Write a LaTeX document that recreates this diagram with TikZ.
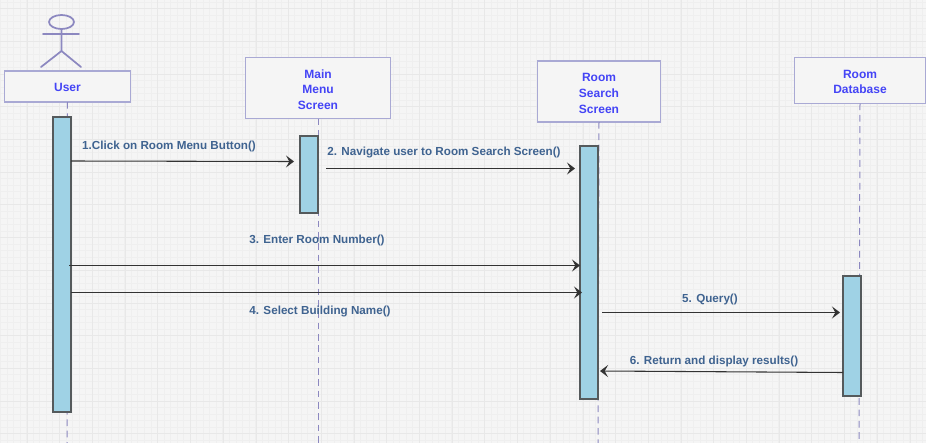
\documentclass[tikz,border=0pt]{standalone}
\usepackage{fontspec}
\setmainfont{Liberation Sans}
\usetikzlibrary{arrows.meta}
\definecolor{bgc}{HTML}{F5F5F5}
\definecolor{gridminor}{HTML}{EFEFEF}
\definecolor{gridmajor}{HTML}{E8E8E8}
\definecolor{boxline}{HTML}{A9A9D4}
\definecolor{lifec}{HTML}{8C88C0}
\definecolor{headtxt}{HTML}{4444F5}
\definecolor{msgtxt}{HTML}{3F6390}
\definecolor{actfill}{HTML}{9FD2E5}
\definecolor{actline}{HTML}{555A5C}
\definecolor{arrowc}{HTML}{333333}
\tikzset{
  x=0.75pt,y=-0.75pt,
  headbox/.style={draw=boxline,line width=1.2pt,fill=bgc,inner sep=0pt,outer sep=0pt,minimum width=#1},
  headtext/.style={text=headtxt,font=\bfseries\fontsize{9}{11.8}\selectfont,align=center,inner sep=0pt},
  lifeline/.style={draw=lifec,line width=0.75pt,dash pattern=on 5pt off 3.5pt},
  activation/.style={draw=actline,line width=1.6pt,fill=actfill,outer sep=0pt},
  msg/.style={draw=arrowc,line width=0.8pt,-{Stealth[length=6pt,width=9pt,inset=2.5pt]}},
  msglabel/.style={text=msgtxt,font=\bfseries\fontsize{8.75}{10}\selectfont,inner sep=0pt},
  actor/.style={draw=lifec,line width=1.3pt,line cap=round}
}
\newcommand{\actbox}[5]{\node[activation,minimum width=#4*0.75pt,minimum height=#5*0.75pt,inner sep=0pt,anchor=north west] (#1) at (#2,#3) {};}
\begin{document}
\begin{tikzpicture}
\useasboundingbox (0,0) rectangle (926,443);
\fill[bgc] (0,0) rectangle (926,443);
\foreach \k in {0,...,142} {\pgfmathsetmacro{\p}{0.4+6.54*\k}\draw[gridminor,line width=0.45pt] (\p,0) -- (\p,443);}
\foreach \k in {0,...,68} {\pgfmathsetmacro{\p}{2+6.54*\k}\draw[gridminor,line width=0.45pt] (0,\p) -- (926,\p);}
\foreach \k in {0,...,28} {\pgfmathsetmacro{\p}{26.9+32.7*\k}\draw[gridmajor,line width=0.45pt] (\p,0) -- (\p,443);}
\foreach \k in {0,...,13} {\pgfmathsetmacro{\p}{8.5+32.7*\k}\draw[gridmajor,line width=0.45pt] (0,\p) -- (926,\p);}
% lifelines
\coordinate (ue) at (67,443);
\coordinate (me) at (318,443);
\coordinate (se) at (598,443);
\coordinate (de) at (859,443);
\node[headbox=126*0.75pt,minimum height=31*0.75pt] (user) at (67.5,86.5) {};
\node[headbox=145*0.75pt,minimum height=61*0.75pt] (main) at (318,88) {};
\node[headbox=123*0.75pt,minimum height=61*0.75pt] (search) at (599,91.5) {};
\node[headbox=131*0.75pt,minimum height=46*0.75pt] (db) at (860,80.5) {};
\node[headtext] (usert) at (67.5,87.5) {User};
\node[headtext] (maint) at (318,89.5) {Main\\Menu\\Screen};
\node[headtext] (searcht) at (599,93.5) {Room\\Search\\Screen};
\node[headtext] (dbt) at (860,82) {Room\\Database};
\draw[lifeline] (user.south) -- (ue);
\draw[lifeline] (main.south) -- (me);
\draw[lifeline] (search.south) -- (se);
\draw[lifeline] (db.south) -- (de);
% actor
\draw[actor] (61.5,22) ellipse (12.5 and 7);
\draw[actor] (61.5,29) -- (61.5,51) (43,34) -- (79,34) (41,67) -- (61.5,51) -- (81,67);
% activations
\actbox{aU}{53}{117}{18}{295}
\actbox{aM}{300}{136}{18}{77}
\actbox{aS}{580}{146}{18}{253}
\actbox{aD}{843}{276}{18}{120}
% messages
\coordinate (m1s) at (71,161);\coordinate (m1e) at (294,161.5);
\coordinate (m2s) at (326,168.5);\coordinate (m2e) at (575,168.5);
\coordinate (m3s) at (69,265.5);\coordinate (m3e) at (580,265.5);
\coordinate (m4s) at (71,292.5);\coordinate (m4e) at (582,292.5);
\coordinate (m5s) at (602,312.5);\coordinate (m5e) at (840,312.5);
\coordinate (m6s) at (843,372.5);\coordinate (m6e) at (600,371);
\draw[msg] (m1s) -- (m1e);
\draw[msg] (m2s) -- (m2e);
\draw[msg] (m3s) -- (m3e);
\draw[msg] (m4s) -- (m4e);
\draw[msg] (m5s) -- (m5e);
\draw[msg] (m6s) -- (m6e);
\node[msglabel] (l1) at (169,146) {1.Click on Room Menu Button()};
\node[msglabel] (l2) at (444,153) {2. Navigate user to Room Search Screen()};
\node[msglabel] (l3) at (317,240) {3. Enter Room Number()};
\node[msglabel] (l4) at (320,312) {4. Select Building Name()};
\node[msglabel] (l5) at (710,299) {5. Query()};
\node[msglabel] (l6) at (714,361) {6. Return and display results()};
\end{tikzpicture}
\end{document}
